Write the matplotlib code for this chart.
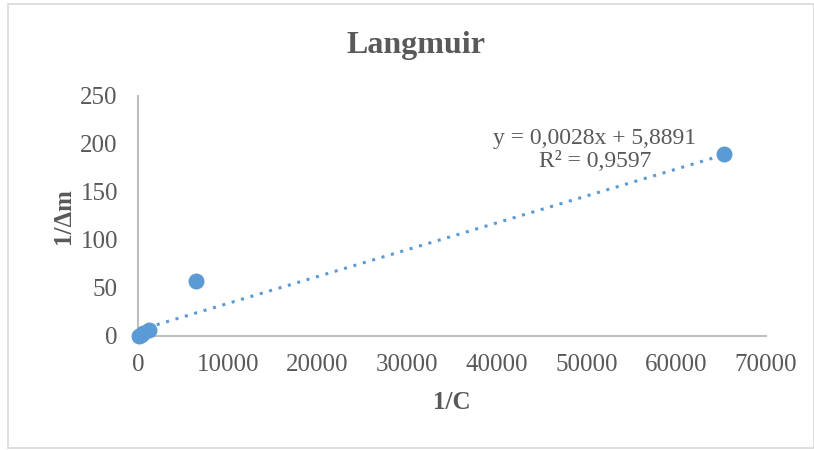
import matplotlib
matplotlib.use("Agg")
import matplotlib.pyplot as plt
import numpy as np
from matplotlib.patches import Rectangle

plt.rcParams['font.family'] = ['Liberation Serif', 'DejaVu Serif']

inv_c = [100, 300, 600, 1200, 6450, 65300]
inv_dm = [0.3, 1.5, 3.0, 6.5, 57.5, 190.0]
slope = 0.0028
intercept = 5.8891
eq_text = "y = 0,0028x + 5,8891\nR² = 0,9597"
xticks = [0, 10000, 20000, 30000, 40000, 50000, 60000, 70000]
yticks = [0, 50, 100, 150, 200, 250]

color = '#5B9BD5'
W, H = 814, 450
fig = plt.figure(figsize=(W/100, H/100), dpi=100)
fig.patches.append(Rectangle((8/W, 2/H), (W-8)/W, (H-6)/H, transform=fig.transFigure,
                             fill=False, edgecolor='#d9d9d9', linewidth=1.2))
ax = fig.add_axes([138/W, 1-336/H, (766-138)/W, (336-96)/H])

ax.scatter(inv_c, inv_dm, s=110, color=color, zorder=3, clip_on=False)
xl = np.array([0, max(inv_c)])
ax.plot(xl, slope*xl + intercept, linestyle=(0, (1, 2.2)), color=color, linewidth=2.2, zorder=2)

ax.set_xlim(0, 70000)
ax.set_ylim(0, 250)
ax.set_xticks(xticks)
ax.set_yticks(yticks)
ax.set_xticklabels([str(t) for t in xticks])
ax.set_yticklabels([str(t) for t in yticks])
for s in ['top', 'right']:
    ax.spines[s].set_visible(False)
for s in ['left', 'bottom']:
    ax.spines[s].set_color('#bfbfbf')
    ax.spines[s].set_linewidth(1.5)
ax.tick_params(length=0, labelsize=18, colors='#595959')
ax.tick_params(axis='y', pad=14.5)
ax.tick_params(axis='x', pad=13)

fig.text(416/W, 1-45/H, "Langmuir", fontsize=23, fontweight='bold', color='#595959',
         ha='center', va='center')
ax.set_xlabel("1/C", fontsize=18, fontweight='bold', color='#595959', labelpad=11)
ax.set_ylabel("1/Δm", fontsize=18, fontweight='bold', color='#595959', labelpad=4)

ax.text(50940, 193.5, eq_text, fontsize=17, color='#595959', ha='center', va='center',
        linespacing=1.1)

fig.savefig("out.png", dpi=100)
